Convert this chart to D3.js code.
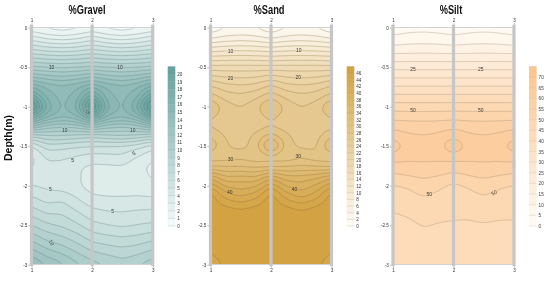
<!DOCTYPE html>
<html>
<head>
<meta charset="UTF-8">
<title>Gravel, Sand, Silt</title>
<script src="https://cdn.jsdelivr.net/npm/d3@7"></script>
<style>
    html, body { margin: 0; padding: 0; background: #fff; }
    svg { display: block; filter: blur(0.3px); }
    text { font-family: "Liberation Sans", Arial, sans-serif; fill: #333; }
    .tick text { font-size: 4.6px; }
    .label { font-size: 5px; paint-order: stroke; stroke-width: 1.4px; }
    .title { font-size: 13px; font-weight: bold; fill: #111; }
</style>
</head>
<body>
<svg width="550" height="283"></svg>
<script>
const wells = [1, 1.25, 1.5, 1.75, 2, 2.25, 2.5, 2.75, 3];
const depthTicks = [0, -0.5, -1, -1.5, -2, -2.5, -3];

const gravelDepths = [0, .1, .25, .5, .75, .875, 1, 1.125, 1.25, 1.375, 1.5, 1.625, 1.75, 2, 2.25, 2.5, 2.75, 3];
const gravelValues = [
    [1, .6, .3, .6, 1, .6, .3, .6, 1],
    [3, 2.2, 1.9, 2.2, 3, 2.2, 1.9, 2.3, 3],
    [5.6, 5.1, 4.9, 5.1, 5.6, 5.1, 4.9, 5.1, 5.6],
    [10.2, 10, 9.9, 10, 10.2, 10, 9.9, 10, 10.2],
    [16, 14.9, 14.4, 14.9, 16, 14.9, 14.4, 15, 16.5],
    [19, 15.6, 14.6, 15.4, 19, 15.3, 14.6, 15.8, 19.5],
    [23, 17, 14.7, 16.2, 23, 16.3, 14.7, 17.3, 23.5],
    [18, 15.4, 14.4, 15, 18, 15, 14.4, 15.5, 18.5],
    [13, 11.4, 11, 11.3, 12.5, 11.3, 11, 11.4, 13],
    [8, 8.8, 8.9, 8.6, 8, 8.7, 9, 8.6, 7.8],
    [4.7, 6.5, 6.3, 6, 6, 5.8, 5.7, 5.3, 4.4],
    [3.6, 5.3, 5.3, 5, 4.6, 4.8, 4.9, 4, 3.2],
    [3.8, 4.7, 4.6, 4.1, 3.8, 3.8, 3.9, 3.3, 2.7],
    [5, 4.7, 4.5, 4.2, 3.4, 3.3, 3.3, 3.3, 3.1],
    [6.9, 6.1, 6.4, 5.5, 4.8, 4.6, 4.6, 4.7, 4.7],
    [9, 8.2, 7.8, 7.2, 6.3, 6, 5.8, 6, 6.2],
    [11.6, 10.5, 10, 9.2, 8.3, 8, 7.8, 8, 8.5],
    [14.2, 13, 12.3, 11.3, 10.5, 10, 9.5, 10, 10.7]
];
const gravelLabels = [
    ["10", 1.33, .5, 0], ["10", 2.46, .5, 0], ["15", 1.93, 1.06, 80], ["10", 1.55, 1.3, 0], ["10", 2.67, 1.3, 0],
    ["5", 1.68, 1.68, 0], ["5", 2.69, 1.59, -30], ["5", 1.31, 2.05, 0], ["5", 2.34, 2.32, 0], ["10", 1.33, 2.72, 60]
];

const sandDepths = [0, .1, .25, .5, .75, .875, 1, 1.125, 1.25, 1.375, 1.5, 1.625, 1.75, 1.9, 2.1, 2.3, 2.5, 2.75, 3];
const sandValues = [
    [.5, 1.7, 2.2, 1.7, .5, 1.7, 2.2, 1.7, .5],
    [2.6, 3.7, 4, 3.7, 2.6, 3.7, 4, 3.7, 2.6],
    [8.1, 8.5, 8.7, 8.5, 8.1, 8.5, 8.7, 8.5, 8.1],
    [16.8, 16.9, 16.9, 16.9, 16.8, 16.9, 16.9, 16.9, 16.8],
    [24.6, 23, 22.6, 23, 25, 23, 22.6, 23, 24.6],
    [27, 25.2, 24.6, 25.6, 27.2, 25.6, 24.6, 25.2, 27],
    [30.5, 27, 26, 27.3, 31.5, 27.3, 26, 27, 30.5],
    [28.3, 26.8, 26.5, 26.9, 28.4, 26.9, 26.5, 26.8, 28.2],
    [27.7, 26.8, 26.6, 27, 27.7, 27, 26.6, 26.8, 27],
    [30, 27.8, 26.9, 28.6, 31, 28.6, 26.9, 27.2, 30],
    [32, 28.2, 27.2, 29, 37, 29, 27.4, 27.6, 33],
    [28.2, 28.6, 29.3, 28.2, 28.5, 28.2, 29.6, 28.4, 28.2],
    [31.5, 31.6, 31.6, 31.2, 31, 31.6, 32, 31.6, 31],
    [40, 36.5, 37, 36.5, 40, 37, 37, 38, 40],
    [47, 42.5, 41, 42.5, 47, 42.5, 40.5, 42.5, 47],
    [47.5, 47, 46.3, 47, 47.5, 47, 46, 47, 47.5],
    [47.5, 47.5, 47.5, 47.5, 47.5, 47.5, 47.5, 47.5, 47.5],
    [46.3, 47.5, 47.5, 47.5, 47.5, 47.5, 47.5, 47.5, 46.3],
    [45.2, 46.2, 47.5, 47.5, 47.5, 47.5, 47.5, 46.2, 45.2]
];
const sandLabels = [
    ["10", 1.33, .3, 0], ["10", 2.46, .29, 0], ["20", 1.33, .64, 0], ["20", 2.45, .63, 0],
    ["30", 1.33, 1.67, 0], ["30", 2.45, 1.63, 0], ["40", 1.32, 2.08, 0], ["40", 2.39, 2.05, 0]
];

const siltDepths = [0, .1, .25, .5, .75, 1, 1.2, 1.35, 1.5, 1.65, 1.8, 2, 2.25, 2.5, 3];
const siltValues = [
    [2, 2.6, 3, 2.6, 2, 2.6, 3, 2.6, 2],
    [5, 6.3, 6.6, 6.1, 5, 6.1, 6.6, 6.1, 5],
    [11, 11.4, 11.5, 11.4, 11, 11.4, 11.5, 11.4, 11],
    [23.5, 23.5, 23.5, 23.5, 23.5, 23.5, 23.5, 23.5, 23.5],
    [35.5, 35.5, 35.5, 35.5, 35.5, 35.5, 35.5, 35.5, 35.5],
    [47.5, 47.5, 47.5, 47.5, 47.5, 47.5, 47.5, 47.5, 47.5],
    [56.3, 56, 55.8, 56, 56.5, 56, 55.8, 56, 56.3],
    [62.5, 60.6, 60, 60.8, 63, 60.6, 60, 60.8, 62.5],
    [69, 63, 62.3, 63.5, 70, 63.5, 62.3, 63, 68.5],
    [62, 61, 61, 61, 61.5, 61, 61, 61, 61.8],
    [56.5, 57.5, 58, 57.5, 56, 57.5, 58.2, 57.5, 56.5],
    [49.5, 50.5, 52.8, 51, 48.5, 50.5, 52.5, 50.5, 49.5],
    [45.8, 46.5, 48, 47, 46.8, 46.5, 47.8, 47, 46.7],
    [43.5, 44, 45.2, 44.7, 44.4, 44.4, 44.6, 44.3, 44.4],
    [41.5, 41.5, 41.5, 41.5, 41.5, 41.5, 41.5, 41.5, 41.5]
];
const siltLabels = [
    ["25", 1.33, .53, 0], ["25", 2.45, .52, 0], ["50", 1.33, 1.05, 0], ["50", 2.45, 1.04, 0],
    ["50", 1.6, 2.11, 0], ["50", 2.67, 2.09, -30]
];

const panels = [
    { title: "%Gravel", titleX: 87, titleW: 37, left: 31.5, right: 152.7, barX: 167.7, top: 21, step: 1,
      low: "#f6fbfa", high: "#649f9b", line: "#5f7f7c", depths: gravelDepths, values: gravelValues, labels: gravelLabels },
    { title: "%Sand", titleX: 269, titleW: 31, left: 210.5, right: 331.5, barX: 346.7, top: 48, step: 2,
      low: "#fefcf7", high: "#d2a03e", line: "#8f7238", depths: sandDepths, values: sandValues, labels: sandLabels },
    { title: "%Silt", titleX: 451, titleW: 22.5, left: 393, right: 514, barX: 529, top: 75, step: 5,
      low: "#fffbf7", high: "#fbc48c", line: "#a08a72", depths: siltDepths, values: siltValues, labels: siltLabels }
];

const svg = d3.select("svg");
const yTop = 27.7, yBottom = 264.7;
const nx = 243, ny = 475; // contouring grid, about 2 cells per pixel

// the read-off table goes on a fine grid so the contour lines come out round
function fineGrid(depths, values) {
    const out = new Float64Array(nx * ny);
    const column = d3.scaleLinear([0, nx - 1], [1, 3]);
    const row = d3.scaleLinear([0, ny - 1], [0, 3]);
    const atWell = d3.scaleLinear(wells, wells.map((d, i) => i));
    const atDepth = d3.scaleLinear(depths, depths.map((d, i) => i));
    for (let j = 0; j < ny; j++) {
        const r = atDepth(row(j));
        const r0 = Math.min(Math.floor(r), depths.length - 2);
        for (let i = 0; i < nx; i++) {
            const c = atWell(column(i));
            const c0 = Math.min(Math.floor(c), wells.length - 2);
            const a = d3.interpolateNumber(values[r0][c0], values[r0][c0 + 1])(c - c0);
            const b = d3.interpolateNumber(values[r0 + 1][c0], values[r0 + 1][c0 + 1])(c - c0);
            out[j * nx + i] = a + (b - a) * (r - r0);
        }
    }
    d3.blur2({ data: out, width: nx, height: ny }, 7);
    return out;
}

panels.forEach((p, n) => {
    const x = d3.scaleLinear([1, 3], [p.left, p.right]);
    const y = d3.scaleLinear([0, -3], [yTop, yBottom]);
    const color = d3.scaleLinear([0, p.top], [p.low, p.high]);
    const levels = d3.range(0, p.top, p.step);
    const bandColor = v => color(Math.floor(v / p.step) * p.step + p.step / 2);

    const gridX = d3.scaleLinear([0.5, nx - 0.5], [p.left, p.right]);
    const gridY = d3.scaleLinear([0.5, ny - 0.5], [yTop, yBottom]);
    const path = d3.geoPath(d3.geoTransform({
        point(px, py) { this.stream.point(gridX(px), gridY(py)); }
    }));

    const field = fineGrid(p.depths, p.values);
    const contours = d3.contours().size([nx, ny]).thresholds(levels)(field);

    svg.append("clipPath").attr("id", "clip" + n)
        .append("rect")
        .attr("x", p.left).attr("y", yTop + 0.6)
        .attr("width", p.right - p.left).attr("height", yBottom - yTop - 1.2);

    const plot = svg.append("g").attr("clip-path", `url(#clip${n})`);
    plot.selectAll("path.band").data(contours).enter().append("path")
        .attr("class", "band")
        .attr("d", path)
        .attr("fill", d => color(d.value + p.step / 2));
    plot.selectAll("path.line").data(contours.filter(d => d.value > 0)).enter().append("path")
        .attr("class", "line")
        .attr("d", path)
        .attr("fill", "none")
        .attr("stroke", p.line)
        .attr("stroke-opacity", 0.65)
        .attr("stroke-width", 0.55);

    // frame
    svg.append("rect")
        .attr("x", p.left).attr("y", yTop)
        .attr("width", p.right - p.left).attr("height", yBottom - yTop)
        .attr("fill", "none").attr("stroke", "#b5b5b5").attr("stroke-width", 0.6);

    // boreholes
    svg.selectAll(null).data([1, 2, 3]).enter().append("rect")
        .attr("x", d => x(d) - 1.6)
        .attr("y", yTop - 3)
        .attr("width", 3.2)
        .attr("height", yBottom - yTop + 4.5)
        .attr("fill", "#c6c6c6");

    // contour labels
    svg.selectAll(null).data(p.labels).enter().append("text")
        .attr("class", "label")
        .attr("text-anchor", "middle")
        .attr("dy", "0.35em")
        .attr("transform", d => `translate(${x(d[1])},${y(-d[2])}) rotate(${d[3]})`)
        .attr("stroke", d => bandColor(+d[0]))
        .text(d => d[0]);

    // axes
    const axes = [
        d3.axisLeft(y).tickValues(depthTicks).tickFormat(d => String(d)),
        d3.axisTop(x).tickValues([1, 2, 3]).tickFormat(d3.format("d")),
        d3.axisBottom(x).tickValues([1, 2, 3]).tickFormat(d3.format("d"))
    ];
    const spots = [`translate(${p.left - 1.6},0)`, `translate(0,${yTop - 3})`, `translate(0,${yBottom + 1.5})`];
    axes.forEach((axis, i) => {
        const g = svg.append("g").attr("transform", spots[i])
            .call(axis.tickSize(1.5).tickPadding(1));
        g.select(".domain").remove();
        g.selectAll(".tick line").attr("stroke", "#777").attr("stroke-width", 0.5);
        g.selectAll(".tick text").attr("fill", "#333");
    });

    // title
    svg.append("text")
        .attr("class", "title")
        .attr("text-anchor", "middle")
        .attr("x", p.titleX)
        .attr("y", 14)
        .attr("textLength", p.titleW)
        .attr("lengthAdjust", "spacingAndGlyphs")
        .text(p.title);

    // colour bar
    const barY = d3.scaleLinear([0, p.top], [226, 66.5]);
    const bar = svg.append("g");
    bar.selectAll("rect").data(levels).enter().append("rect")
        .attr("x", p.barX)
        .attr("y", d => barY(d + p.step))
        .attr("width", 7.6)
        .attr("height", d => barY(d) - barY(d + p.step))
        .attr("fill", d => color(d + p.step / 2));
    bar.selectAll("line").data(levels.concat(p.top)).enter().append("line")
        .attr("x1", p.barX).attr("x2", p.barX + 7.6)
        .attr("y1", d => barY(d)).attr("y2", d => barY(d))
        .attr("stroke", p.line).attr("stroke-opacity", 0.5).attr("stroke-width", 0.4);
    const barAxis = d3.axisRight(barY)
        .tickValues(levels)
        .tickSize(0).tickPadding(2).tickFormat(d3.format("d"));
    const barG = svg.append("g").attr("transform", `translate(${p.barX + 7.6},0)`).call(barAxis);
    barG.select(".domain").remove();
    barG.selectAll(".tick text").attr("fill", "#333");
});

svg.append("text")
    .attr("transform", "translate(12,138) rotate(-90)")
    .attr("text-anchor", "middle")
    .attr("font-size", 10.5)
    .attr("font-weight", "bold")
    .style("fill", "#111")
    .text("Depth(m)");
</script>
</body>
</html>
